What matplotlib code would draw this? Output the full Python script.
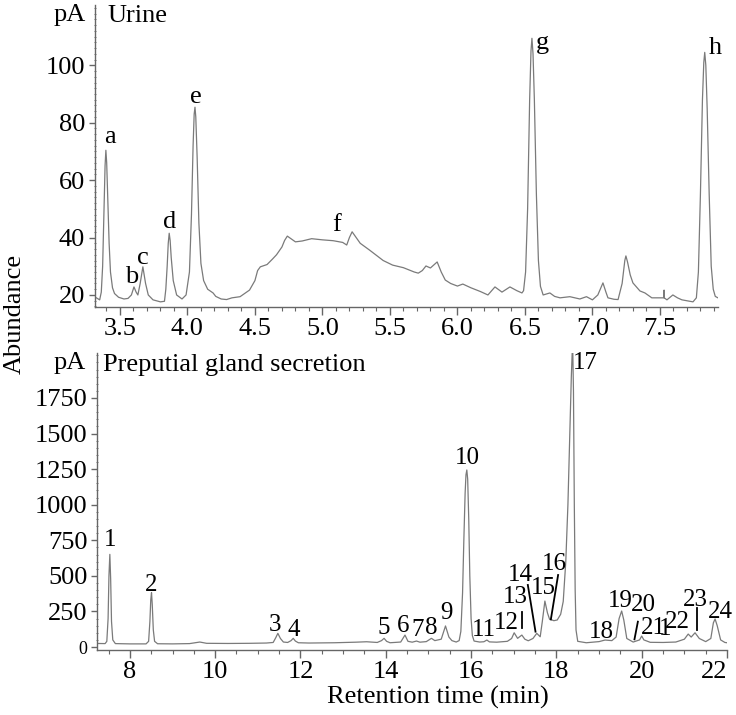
import matplotlib
matplotlib.use("Agg")
import matplotlib.pyplot as plt
from matplotlib.ticker import MultipleLocator, FixedLocator

plt.rcParams["font.family"] = ["Liberation Serif", "DejaVu Serif"]

# ---- urine trace ----
urine_rt = [3.315, 3.35, 3.362, 3.372, 3.382, 3.39, 3.396, 3.402, 3.41, 3.42, 3.43, 3.445, 3.46,
            3.49, 3.53, 3.56, 3.585, 3.604, 3.62, 3.633, 3.65, 3.67, 3.69, 3.71, 3.745, 3.8,
            3.83, 3.84, 3.85, 3.858, 3.865, 3.872, 3.88, 3.895, 3.92, 3.96, 3.99, 4.015, 4.03,
            4.042, 4.05, 4.056, 4.062, 4.072, 4.085, 4.10, 4.12, 4.15, 4.19, 4.21, 4.25, 4.29,
            4.33, 4.39, 4.46, 4.50, 4.52, 4.54, 4.59, 4.63, 4.66, 4.70, 4.72, 4.74, 4.77, 4.80,
            4.85, 4.92, 5.0, 5.08, 5.15, 5.18, 5.20, 5.22, 5.25, 5.28, 5.35, 5.45, 5.52, 5.6,
            5.68, 5.71, 5.74, 5.767, 5.80, 5.85, 5.88, 5.91, 5.95, 6.0, 6.04, 6.1, 6.17, 6.226,
            6.278, 6.33, 6.389, 6.44, 6.478, 6.49, 6.505, 6.52, 6.535, 6.545, 6.552, 6.56, 6.57,
            6.585, 6.60, 6.615, 6.635, 6.685, 6.72, 6.76, 6.833, 6.907, 6.956, 7.0, 7.04, 7.078,
            7.10, 7.115, 7.16, 7.19, 7.22, 7.24, 7.248, 7.26, 7.28, 7.30, 7.352, 7.389, 7.44,
            7.515, 7.53, 7.531, 7.532, 7.552, 7.596, 7.63, 7.663, 7.745, 7.77, 7.785, 7.80,
            7.815, 7.825, 7.832, 7.84, 7.85, 7.865, 7.88, 7.895, 7.91, 7.93]
urine_pa = [19.3, 18.3, 21, 30, 50, 65, 70.4, 66, 54, 38, 28, 22.5, 20.5,
            19.2, 18.6, 18.8, 20, 22.8, 21, 20, 24, 29.8, 24, 20, 18.3, 17.6,
            17.8, 22, 30, 38, 41.5, 39, 33, 25, 20, 18.6, 20, 28, 48,
            72, 83, 85.4, 82, 68, 45, 31, 25, 22, 20.7, 19.5, 18.6, 18.4,
            19, 19.4, 21.7, 25, 28.5, 29.8, 30.6, 32.5, 34, 36.7, 39, 40.5, 39.5, 38.5,
            38.8, 39.6, 39.2, 38.9, 38.3, 37.4, 40, 42, 40, 38, 35.6, 32, 30.4, 29.5,
            28, 27.6, 28.5, 30.1, 29.4, 31.5, 28, 25.2, 24, 23.1, 23.8, 22.5, 21.2, 20,
            22.8, 21, 22.8, 21.5, 20.7, 21.5, 28, 50, 88, 105, 109.4, 104, 88,
            55, 32, 23, 20, 20.7, 19.5, 19, 19.4, 18.6, 19.4, 18.3, 20, 24.2,
            21, 19, 18.5, 18.4, 24, 32, 33.6, 31.5, 27, 24.2, 21.4, 20.7, 19,
            19, 19, 21.7, 19, 18.3, 20, 19, 18.3, 17.6, 19, 28, 55,
            88, 101, 104.5, 100, 85, 55, 30, 22, 19.5, 19]
urine_labels = ["a", "b", "c", "d", "e", "f", "g", "h"]
urine_lab_x = [3.426, 3.589, 3.67, 3.87, 4.063, 5.107, 6.633, 7.907]
urine_lab_y = [75, 26.3, 32.8, 45.4, 88.9, 44.3, 107.6, 106]

# ---- preputial gland secretion trace ----
gland_rt = [7.23, 7.35, 7.42, 7.46, 7.49, 7.51, 7.531, 7.55, 7.57, 7.60, 7.66, 7.8, 8.0, 8.2,
            8.38, 8.44, 8.47, 8.49, 8.508, 8.525, 8.55, 8.58, 8.65, 9.0, 9.4, 9.64, 9.8, 10.3,
            10.8, 11.2, 11.36, 11.42, 11.47, 11.53, 11.6, 11.7, 11.78, 11.83, 11.88, 11.95,
            12.2, 12.8, 13.3, 13.55, 13.8, 13.9, 13.96, 14.02, 14.1, 14.35, 14.45, 14.52,
            14.62, 14.72, 14.8, 14.95, 15.07, 15.15, 15.3, 15.40, 15.48, 15.55, 15.65, 15.72,
            15.76, 15.80, 15.83, 15.86, 15.88, 15.90, 15.92, 15.945, 15.97, 16.0, 16.03, 16.07,
            16.2, 16.3, 16.37, 16.43, 16.6, 16.85, 16.95, 17.01, 17.09, 17.19, 17.26, 17.34,
            17.45, 17.54, 17.62, 17.67, 17.73, 17.79, 17.84, 17.88, 17.94, 18.02, 18.1, 18.16,
            18.22, 18.27, 18.31, 18.35, 18.38, 18.40, 18.42, 18.44, 18.46, 18.50, 18.7, 19.0,
            19.14, 19.3, 19.4, 19.47, 19.53, 19.58, 19.65, 19.8, 19.95, 20.0, 20.05, 20.2, 20.5,
            20.8, 21.0, 21.09, 21.16, 21.25, 21.35, 21.5, 21.62, 21.68, 21.72, 21.77, 21.85,
            21.95, 22.0]
gland_pa = [25, 24, 24, 40, 200, 500, 651, 480, 180, 50, 24, 23, 22, 22,
            22, 40, 180, 330, 382, 300, 120, 40, 23, 22, 24, 35, 26, 25,
            26, 28, 32, 65, 96, 60, 35, 32, 45, 61, 42, 30,
            28, 30, 34, 37, 32, 45, 61, 40, 30, 35, 84, 40,
            34, 42, 34, 38, 61, 45, 55, 148, 70, 45, 35, 45,
            110, 380, 750, 1080, 1210, 1244, 1180, 900, 500, 200, 80, 42,
            35, 37, 49, 36, 34, 40, 60, 100, 61, 84, 55, 44,
            60, 96, 72, 180, 323, 240, 195, 192, 185, 190, 230, 320,
            600, 1000, 1450, 1900, 2150, 1800, 1000, 400, 120, 40, 30, 38,
            49, 45, 70, 200, 253, 190, 60, 35, 50, 77, 50, 33, 32,
            35, 55, 91, 70, 100, 60, 38, 60, 170, 197, 150, 50,
            32, 30]
gland_labels = ["1", "2", "3", "4", "5", "6", "7", "8", "9", "10", "11", "12", "13", "14",
                "15", "16", "17", "18", "19", "20", "21", "1", "22", "23", "24"]
gland_lab_x = [7.531, 8.49, 11.40, 11.85, 13.96, 14.40, 14.75, 15.07, 15.43, 15.92, 16.30,
               16.83, 17.03, 17.15, 17.69, 17.95, 18.69, 19.06, 19.49, 20.04, 20.27, 20.56,
               20.84, 21.25, 21.84]
gland_lab_y = [752, 436, 155, 120, 131, 148, 120, 131, 237, 1326, 120,
               166, 349, 506, 412, 581, 1994, 108, 323, 295, 131, 125,
               178, 330, 248]
# leader lines from label to peak
leader_x0 = [17.19, 17.33, 18.04, 19.91, 21.29]
leader_y0 = [248, 436, 506, 178, 274]
leader_x1 = [17.19, 17.51, 17.87, 19.83, 21.29]
leader_y1 = [131, 108, 194, 54, 120]

trace_col = "#7a7a7a"
axis_col = "#666666"
fs = 19
fs_peak = 18

fig = plt.figure(figsize=(7.36, 7.15), dpi=100)
ax1 = fig.add_axes([0.129, 0.5706, 0.8465, 0.4224])
ax2 = fig.add_axes([0.1318, 0.0909, 0.856, 0.4154])

for ax in (ax1, ax2):
    for s in ("top", "right"):
        ax.spines[s].set_visible(False)
    for s in ("left", "bottom"):
        ax.spines[s].set_color(axis_col)
        ax.spines[s].set_linewidth(1.0)
    ax.tick_params(which="both", colors=axis_col, labelcolor="black", labelsize=fs)
    ax.tick_params(axis="x", which="major", length=6, width=1, pad=2)
    ax.tick_params(axis="x", which="minor", length=3, width=0.8)
    ax.tick_params(axis="y", which="major", length=4, width=1, pad=3)
    ax.tick_params(axis="y", which="minor", length=2, width=0.6, direction="inout")

# top panel
ax1.plot(urine_rt, urine_pa, color=trace_col, lw=0.9)
ax1.set_xlim(3.315, 7.93)
ax1.set_ylim(15.8, 121)
ax1.xaxis.set_major_locator(MultipleLocator(0.5))
ax1.xaxis.set_minor_locator(MultipleLocator(0.1))
ax1.yaxis.set_major_locator(FixedLocator([20, 40, 60, 80, 100]))
ax1.yaxis.set_minor_locator(MultipleLocator(2))
for t, x, y in zip(urine_labels, urine_lab_x, urine_lab_y):
    ax1.text(x, y, t, fontsize=fs, ha="center", va="center")

# bottom panel
ax2.plot(gland_rt, gland_pa, color=trace_col, lw=0.9)
ax2.set_xlim(7.23, 22.0)
ax2.set_ylim(-21, 2066)
ax2.xaxis.set_major_locator(MultipleLocator(2))
ax2.xaxis.set_minor_locator(MultipleLocator(0.5))
ax2.yaxis.set_major_locator(FixedLocator([0, 250, 500, 750, 1000, 1250, 1500, 1750]))
ax2.yaxis.set_minor_locator(MultipleLocator(50))
for t, x, y in zip(gland_labels, gland_lab_x, gland_lab_y):
    ax2.text(x, y, t, fontsize=fs_peak, ha="center", va="center")
for x0, y0, x1, y1 in zip(leader_x0, leader_y0, leader_x1, leader_y1):
    ax2.plot([x0, x1], [y0, y1], color="black", lw=1.3)
fig.canvas.draw()
for lab in ax2.get_yticklabels():
    if lab.get_text() == "0":
        lab.set_fontsize(13)
xlabs = ax2.get_xticklabels()
for lab in xlabs:
    if lab.get_text() == "22":
        lab.set_horizontalalignment("right")

fig.text(0.094, 0.979, "pA", fontsize=fs, ha="center", va="center")
fig.text(0.1454, 0.977, "Urine", fontsize=fs, ha="left", va="center")
fig.text(0.094, 0.492, "pA", fontsize=fs, ha="center", va="center")
fig.text(0.140, 0.49, "Preputial gland secretion", fontsize=fs, ha="left", va="center")
fig.text(0.02, 0.561, "Abundance", fontsize=fs, rotation=90, ha="center", va="center")
fig.text(0.595, 0.024, "Retention time (min)", fontsize=fs, ha="center", va="center")

fig.savefig("out.png", dpi=100)
